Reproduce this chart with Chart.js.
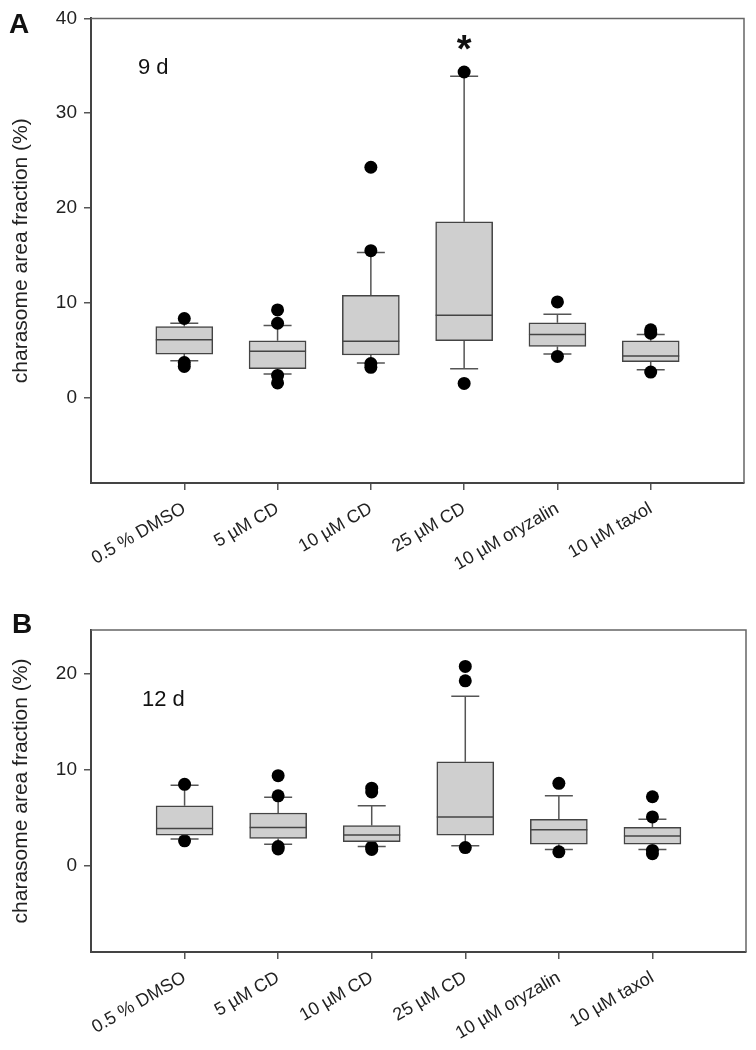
<!DOCTYPE html>
<html>
<head>
<meta charset="utf-8">
<script src="https://cdn.jsdelivr.net/npm/chart.js@4"></script>
<style>
  body { margin: 0; background: #fff; }
  .panel { position: absolute; left: 0; }
</style>
</head>
<body>
<canvas id="chartA" class="panel" style="top:0" width="756" height="600"></canvas>
<canvas id="chartB" class="panel" style="top:600px" width="756" height="450"></canvas>
<script>
// categorias (eixo x)
const groups = ['0.5 % DMSO', '5 µM CD', '10 µM CD', '25 µM CD', '10 µM oryzalin', '10 µM taxol'];

// painel A - 9 d : whisker inferior, Q1, mediana, Q3, whisker superior, pontos fora
const lowA  = [3.9, 2.5, 3.65, 3.05, 4.6, 2.95];
const q1A   = [4.6, 3.05, 4.5, 6.0, 5.4, 3.8];
const medA  = [6.1, 4.9, 5.95, 8.7, 6.65, 4.4];
const q3A   = [7.5, 6.0, 10.8, 18.55, 7.9, 6.0];
const highA = [7.85, 7.6, 15.3, 33.9, 8.8, 6.65];
const outA  = [[8.35, 3.7, 3.3], [9.25, 7.85, 2.35, 1.55], [24.3, 15.5, 3.6, 3.2], [34.35, 1.5], [10.1, 4.35], [7.15, 6.8, 2.7]];
const starA = [null, null, null, 37, null, null];
const yTicksA = [0, 10, 20, 30, 40];

// painel B - 12 d
const lowB  = [2.8, 2.25, 2.0, 2.1, 1.7, 1.7];
const q1B   = [3.2, 2.85, 2.5, 3.2, 2.25, 2.25];
const medB  = [3.9, 4.0, 3.2, 5.1, 3.75, 3.1];
const q3B   = [6.25, 5.5, 4.2, 10.85, 4.85, 4.0];
const highB = [8.4, 7.15, 6.25, 17.7, 7.3, 4.85];
const outB  = [[8.5, 2.6], [9.4, 7.3, 2.0, 1.75], [8.1, 7.7, 1.95, 1.7], [20.8, 19.3, 1.9], [8.6, 1.45], [7.2, 5.1, 1.6, 1.25]];
const starB = [null, null, null, null, null, null];
const yTicksB = [0, 10, 20];

const FONT = "'Liberation Sans', Arial, sans-serif";

// Desenha whiskers, medianas, moldura e textos usando as escalas do Chart.js
const boxExtras = {
  id: 'boxExtras',
  beforeDatasetsDraw(chart, args, o) {
    const { ctx, scales: { x, y } } = chart;
    ctx.save();
    ctx.strokeStyle = '#555';
    ctx.lineWidth = 1.5;
    o.low.forEach((lo, i) => {
      const cx = x.getPixelForValue(i + 1);
      const segs = [[o.q3[i], o.high[i]], [o.q1[i], lo]];
      segs.forEach(([from, to]) => {
        const y0 = y.getPixelForValue(from), y1 = y.getPixelForValue(to);
        ctx.beginPath();
        ctx.moveTo(cx, y0); ctx.lineTo(cx, y1);
        ctx.moveTo(cx - 14, y1); ctx.lineTo(cx + 14, y1);
        ctx.stroke();
      });
    });
    ctx.restore();
  },
  afterDatasetsDraw(chart, args, o) {
    const { ctx, chartArea: a, scales: { x, y } } = chart;
    ctx.save();
    // medianas
    ctx.strokeStyle = '#444';
    ctx.lineWidth = 1.5;
    o.med.forEach((m, i) => {
      const cx = x.getPixelForValue(i + 1), my = y.getPixelForValue(m);
      ctx.beginPath();
      ctx.moveTo(cx - 28.5, my); ctx.lineTo(cx + 28.5, my);
      ctx.stroke();
    });
    // moldura (topo e direita)
    ctx.strokeStyle = '#666';
    ctx.beginPath();
    ctx.moveTo(a.left, a.top); ctx.lineTo(a.right, a.top); ctx.lineTo(a.right, a.bottom);
    ctx.stroke();
    // asterisco de significância
    ctx.fillStyle = '#111';
    ctx.font = 'bold 38px ' + FONT;
    ctx.textAlign = 'center';
    ctx.textBaseline = 'alphabetic';
    o.star.forEach((s, i) => {
      if (s == null) return;
      ctx.fillText('*', x.getPixelForValue(i + 1), y.getPixelForValue(s) + 0.39 * 38);
    });
    // rótulo do dia e letra do painel
    ctx.textAlign = 'left';
    ctx.font = '22px ' + FONT;
    ctx.fillText(o.day, a.left + o.dayX, a.top + o.dayY);
    ctx.font = 'bold 28px ' + FONT;
    ctx.fillText(o.letter, o.letterX, 33);
    ctx.restore();
  }
};

function makeChart(id, d) {
  const boxData = d.q1.map((q, i) => ({ x: i + 1, y: [q, d.q3[i]] }));
  const outData = d.out.flatMap((vals, i) => vals.map(v => ({ x: i + 1, y: v })));
  return new Chart(document.getElementById(id), {
    type: 'bar',
    data: {
      datasets: [{
        data: boxData,
        backgroundColor: '#cfcfcf',
        borderColor: '#444',
        borderWidth: 1.5,
        borderSkipped: false,
        barThickness: 57
      }, {
        type: 'scatter',
        data: outData,
        pointRadius: 6.5,
        pointBackgroundColor: '#000',
        pointBorderWidth: 0
      }]
    },
    options: {
      responsive: false,
      animation: false,
      layout: { padding: { top: d.padTop, right: d.padRight } },
      plugins: {
        legend: { display: false },
        tooltip: { enabled: false },
        boxExtras: {
          low: d.low, q1: d.q1, med: d.med, q3: d.q3, high: d.high, star: d.star,
          day: d.day, dayX: d.dayX, dayY: d.dayY, letter: d.letter, letterX: d.letterX
        }
      },
      scales: {
        x: {
          type: 'linear',
          min: 0,
          max: 7,
          offset: false,
          afterBuildTicks: axis => { axis.ticks = groups.map((g, i) => ({ value: i + 1 })); },
          afterFit: axis => { axis.height = d.xHeight; },
          ticks: {
            callback: v => groups[v - 1] || '',
            autoSkip: false,
            minRotation: 30,
            maxRotation: 30,
            padding: 8,
            color: '#222',
            font: { family: FONT, size: 18 }
          },
          grid: { display: true, drawOnChartArea: false, offset: false, tickLength: 7, color: '#555', lineWidth: 1.5 },
          border: { color: '#444', width: 2 }
        },
        y: {
          min: -9,
          max: d.yMax,
          afterBuildTicks: axis => { axis.ticks = d.yTicks.map(v => ({ value: v })); },
          afterFit: axis => { axis.width = 91; },
          ticks: { padding: 7, color: '#222', font: { family: FONT, size: 19 } },
          grid: { display: true, drawOnChartArea: false, tickLength: 7, color: '#555', lineWidth: 1.5 },
          border: { color: '#444', width: 2 },
          title: {
            display: true,
            text: 'charasome area fraction (%)',
            color: '#222',
            padding: { top: 9, bottom: 0 },
            font: { family: FONT, size: 21 }
          }
        }
      }
    },
    plugins: [boxExtras]
  });
}

makeChart('chartA', {
  low: lowA, q1: q1A, med: medA, q3: q3A, high: highA, out: outA, star: starA,
  yTicks: yTicksA, yMax: 40, padTop: 15, padRight: 12, xHeight: 117,
  day: '9 d', dayX: 47, dayY: 56, letter: 'A', letterX: 9
});

makeChart('chartB', {
  low: lowB, q1: q1B, med: medB, q3: q3B, high: highB, out: outB, star: starB,
  yTicks: yTicksB, yMax: 24.6, padTop: 30, padRight: 10, xHeight: 98,
  day: '12 d', dayX: 51, dayY: 76, letter: 'B', letterX: 12
});
</script>
</body>
</html>
